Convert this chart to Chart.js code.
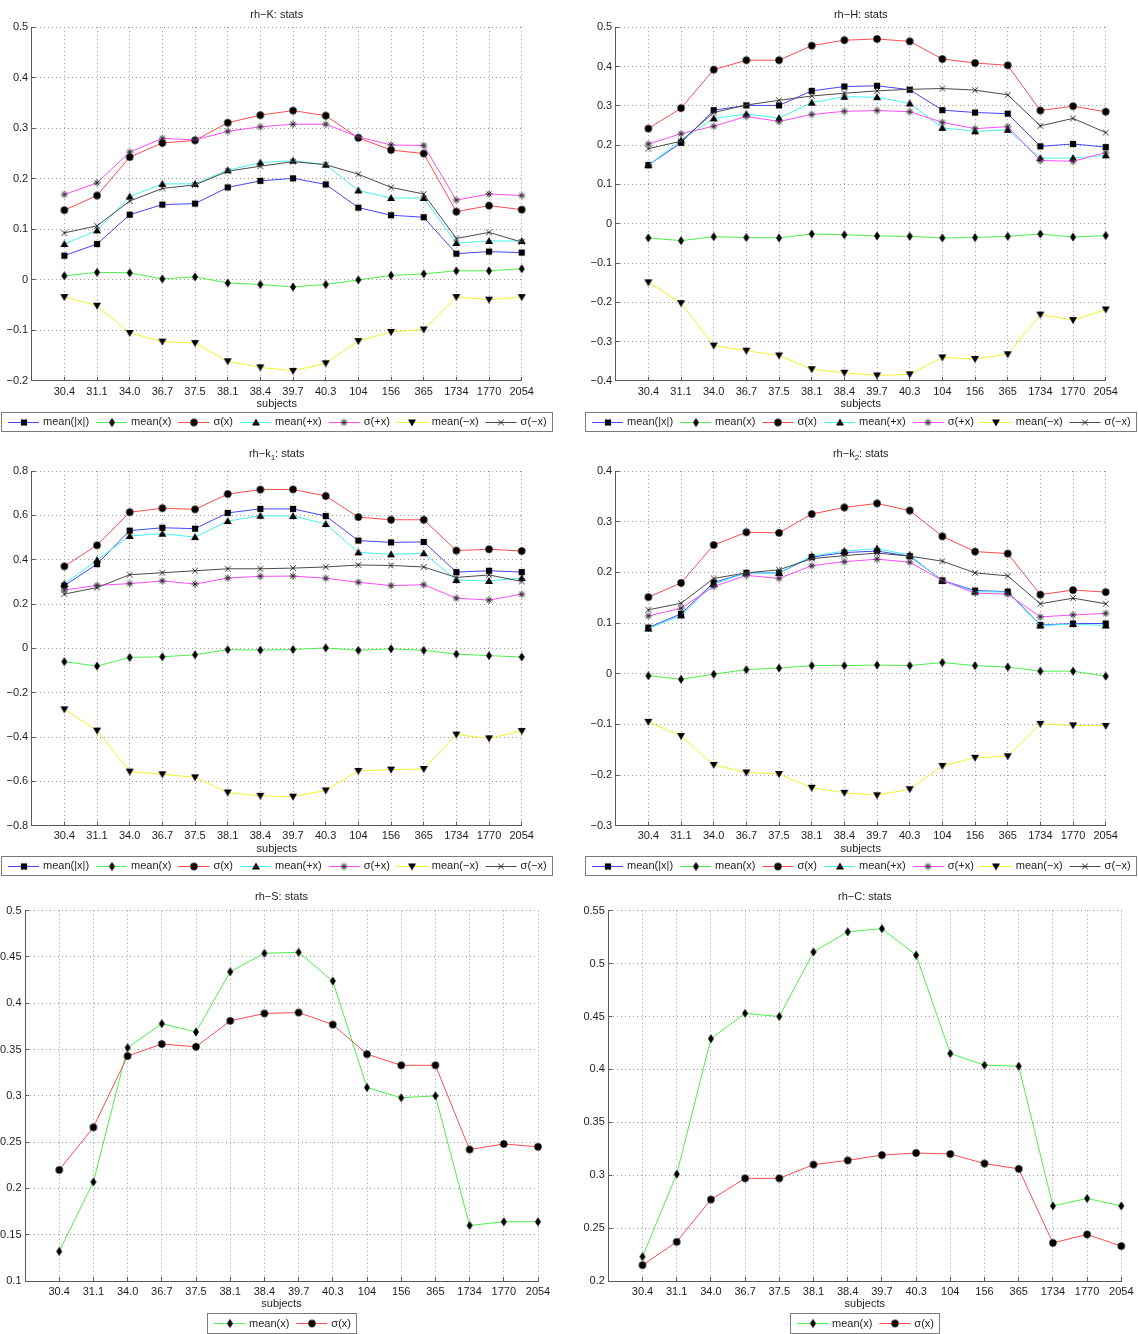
<!DOCTYPE html>
<html><head><meta charset="utf-8">
<script src="https://cdn.jsdelivr.net/npm/chart.js@4.4.1/dist/chart.umd.min.js"></script>
<style>
html,body{margin:0;padding:0;background:#fff;}
#wrap{position:relative;width:1138px;height:1334px;overflow:hidden;background:#fff;}
canvas{position:absolute;left:0;top:0;}
</style></head><body><div id="wrap"></div>
<script>
// ---------- data ----------
const subjects = ['30.4','31.1','34.0','36.7','37.5','38.1','38.4','39.7','40.3','104','156','365','1734','1770','2054'];
const statLabels = ['mean(|x|)','mean(x)','\u03c3(x)','mean(+x)','\u03c3(+x)','mean(\u2212x)','\u03c3(\u2212x)'];

// rh-K
const K_meanAbs  = [0.048,0.071,0.129,0.149,0.151,0.183,0.196,0.201,0.189,0.143,0.128,0.124,0.052,0.056,0.054];
const K_mean     = [0.008,0.015,0.014,0.002,0.006,-0.006,-0.009,-0.014,-0.009,0.000,0.009,0.012,0.018,0.018,0.022];
const K_sigma    = [0.138,0.167,0.243,0.271,0.276,0.311,0.326,0.335,0.325,0.281,0.257,0.250,0.135,0.147,0.139];
const K_meanPos  = [0.071,0.098,0.165,0.190,0.190,0.217,0.232,0.236,0.228,0.177,0.162,0.162,0.073,0.077,0.077];
const K_sigmaPos = [0.169,0.192,0.253,0.280,0.277,0.294,0.303,0.308,0.308,0.283,0.267,0.266,0.158,0.170,0.167];
const K_meanNeg  = [-0.034,-0.051,-0.105,-0.122,-0.125,-0.161,-0.173,-0.180,-0.165,-0.121,-0.103,-0.098,-0.034,-0.039,-0.034];
const K_sigmaNeg = [0.093,0.107,0.156,0.181,0.188,0.215,0.225,0.234,0.228,0.209,0.183,0.170,0.082,0.094,0.075];
const K_yRange = [-0.2, 0.5, 0.1];

// rh-H
const H_meanAbs  = [0.149,0.206,0.289,0.301,0.301,0.338,0.349,0.351,0.341,0.289,0.283,0.280,0.197,0.203,0.195];
const H_mean     = [-0.036,-0.043,-0.033,-0.035,-0.036,-0.026,-0.028,-0.031,-0.032,-0.036,-0.035,-0.032,-0.026,-0.034,-0.030];
const H_sigma    = [0.242,0.294,0.392,0.416,0.416,0.453,0.467,0.470,0.464,0.419,0.409,0.403,0.288,0.299,0.285];
const H_meanPos  = [0.149,0.212,0.268,0.279,0.269,0.308,0.323,0.322,0.306,0.244,0.235,0.239,0.167,0.167,0.174];
const H_sigmaPos = [0.203,0.229,0.248,0.273,0.260,0.278,0.286,0.288,0.285,0.258,0.242,0.247,0.161,0.159,0.181];
const H_meanNeg  = [-0.149,-0.202,-0.310,-0.323,-0.335,-0.370,-0.379,-0.386,-0.383,-0.340,-0.344,-0.332,-0.231,-0.245,-0.218];
const H_sigmaNeg = [0.191,0.210,0.283,0.302,0.314,0.325,0.332,0.338,0.342,0.344,0.340,0.328,0.249,0.268,0.232];
const H_yRange = [-0.4, 0.5, 0.1];

// rh-k1
const k1_meanAbs  = [0.283,0.380,0.531,0.544,0.540,0.611,0.629,0.629,0.597,0.486,0.478,0.480,0.344,0.350,0.344];
const k1_mean     = [-0.060,-0.080,-0.041,-0.038,-0.029,-0.006,-0.008,-0.005,0.002,-0.009,-0.002,-0.009,-0.026,-0.033,-0.039];
const k1_sigma    = [0.370,0.465,0.614,0.632,0.627,0.696,0.716,0.717,0.687,0.592,0.580,0.580,0.441,0.447,0.439];
const k1_meanPos  = [0.290,0.398,0.507,0.517,0.502,0.574,0.598,0.597,0.561,0.433,0.424,0.429,0.308,0.304,0.317];
const k1_sigmaPos = [0.263,0.284,0.292,0.304,0.290,0.317,0.325,0.326,0.316,0.298,0.283,0.287,0.226,0.218,0.244];
const k1_meanNeg  = [-0.275,-0.371,-0.556,-0.568,-0.582,-0.650,-0.665,-0.669,-0.641,-0.553,-0.547,-0.544,-0.389,-0.406,-0.373];
const k1_sigmaNeg = [0.245,0.274,0.332,0.341,0.350,0.359,0.359,0.362,0.367,0.376,0.374,0.367,0.320,0.331,0.302];
const k1_yRange = [-0.8, 0.8, 0.2];

// rh-k2
const k2_meanAbs  = [0.091,0.118,0.180,0.199,0.199,0.230,0.239,0.242,0.232,0.184,0.164,0.162,0.096,0.099,0.099];
const k2_mean     = [-0.004,-0.011,-0.001,0.008,0.011,0.016,0.016,0.017,0.016,0.022,0.016,0.013,0.005,0.005,-0.005];
const k2_sigma    = [0.151,0.179,0.254,0.279,0.278,0.315,0.328,0.336,0.322,0.271,0.241,0.237,0.156,0.165,0.161];
const k2_meanPos  = [0.089,0.115,0.177,0.199,0.199,0.232,0.242,0.247,0.234,0.183,0.162,0.161,0.095,0.098,0.095];
const k2_sigmaPos = [0.114,0.129,0.172,0.194,0.188,0.213,0.221,0.226,0.220,0.184,0.159,0.157,0.112,0.116,0.119];
const k2_meanNeg  = [-0.095,-0.123,-0.180,-0.195,-0.198,-0.225,-0.235,-0.240,-0.228,-0.182,-0.166,-0.163,-0.099,-0.102,-0.103];
const k2_sigmaNeg = [0.126,0.139,0.188,0.199,0.205,0.227,0.233,0.238,0.232,0.222,0.199,0.193,0.138,0.149,0.138];
const k2_yRange = [-0.3, 0.4, 0.1];

// rh-S
const S_mean  = [0.132,0.207,0.352,0.378,0.369,0.434,0.454,0.455,0.424,0.309,0.298,0.300,0.160,0.164,0.164];
const S_sigma = [0.220,0.266,0.343,0.356,0.353,0.381,0.389,0.390,0.377,0.345,0.333,0.333,0.242,0.248,0.245];
const S_yRange = [0.1, 0.5, 0.05];

// rh-C
const C_mean  = [0.223,0.301,0.429,0.453,0.450,0.511,0.530,0.533,0.508,0.415,0.404,0.403,0.271,0.278,0.271];
const C_sigma = [0.215,0.237,0.277,0.297,0.297,0.310,0.314,0.319,0.321,0.320,0.311,0.306,0.236,0.244,0.233];
const C_yRange = [0.2, 0.55, 0.05];

// ---------- styles ----------
const FONT = "'Liberation Sans', Arial, Helvetica, sans-serif";
const TXT = '#1e1e1e', AXIS = '#5a5a5a', GRID = '#9a9a9a';
const statColors  = ['#4444ff','#4cf04c','#ff4c4c','#44f2f2','#ff4cff','#f2f22e','#4a4a4a'];
const statMarkers = ['square','diamond','circle','triUp','star','triDown','xmark'];

function makeMarker(kind) {
  const c = document.createElement('canvas');
  c.width = 12; c.height = 12;
  const g = c.getContext('2d');
  const cx = 6, cy = 6;
  g.fillStyle = '#000'; g.strokeStyle = '#000'; g.lineWidth = 1;
  g.beginPath();
  if (kind === 'square') { g.rect(cx-3.1, cy-3.1, 6.2, 6.2); g.fill(); }
  else if (kind === 'diamond') { g.moveTo(cx, cy-4.6); g.lineTo(cx+3, cy); g.lineTo(cx, cy+4.6); g.lineTo(cx-3, cy); g.closePath(); g.fill(); }
  else if (kind === 'circle') { g.arc(cx, cy, 3.7, 0, 2*Math.PI); g.fill(); }
  else if (kind === 'triUp') { g.moveTo(cx, cy-4); g.lineTo(cx+4, cy+3); g.lineTo(cx-4, cy+3); g.closePath(); g.fill(); }
  else if (kind === 'triDown') { g.moveTo(cx, cy+4); g.lineTo(cx+4, cy-3); g.lineTo(cx-4, cy-3); g.closePath(); g.fill(); }
  else if (kind === 'star') {
    g.strokeStyle = '#2a2a2a'; const r = 3.6;
    for (let k = 0; k < 4; k++) { const a = k*Math.PI/4; g.moveTo(cx-r*Math.cos(a), cy-r*Math.sin(a)); g.lineTo(cx+r*Math.cos(a), cy+r*Math.sin(a)); }
    g.stroke();
  } else if (kind === 'xmark') {
    g.strokeStyle = '#2a2a2a'; const r = 2.8;
    g.moveTo(cx-r, cy-r); g.lineTo(cx+r, cy+r); g.moveTo(cx-r, cy+r); g.lineTo(cx+r, cy-r); g.stroke();
  }
  return c;
}
const markerImgs = {};
statMarkers.forEach(m => markerImgs[m] = makeMarker(m));

// ---------- panels ----------
const panels = [
  { title: [['rh\u2212K: stats', false]], series: [K_meanAbs,K_mean,K_sigma,K_meanPos,K_sigmaPos,K_meanNeg,K_sigmaNeg], idx:[0,1,2,3,4,5,6], y: K_yRange,
    box: {L:31.7, R:521.7, T:27.2, B:381}, titleY: 15, leg: [412, 431] },
  { title: [['rh\u2212H: stats', false]], series: [H_meanAbs,H_mean,H_sigma,H_meanPos,H_sigmaPos,H_meanNeg,H_sigmaNeg], idx:[0,1,2,3,4,5,6], y: H_yRange,
    box: {L:615.7, R:1105.7, T:27.2, B:381}, titleY: 15, leg: [412, 431] },
  { title: [['rh\u2212k', false], ['1', true], [': stats', false]], series: [k1_meanAbs,k1_mean,k1_sigma,k1_meanPos,k1_sigmaPos,k1_meanNeg,k1_sigmaNeg], idx:[0,1,2,3,4,5,6], y: k1_yRange,
    box: {L:31.7, R:521.7, T:471, B:825.7}, titleY: 454, leg: [856, 875] },
  { title: [['rh\u2212k', false], ['2', true], [': stats', false]], series: [k2_meanAbs,k2_mean,k2_sigma,k2_meanPos,k2_sigmaPos,k2_meanNeg,k2_sigmaNeg], idx:[0,1,2,3,4,5,6], y: k2_yRange,
    box: {L:615.7, R:1105.7, T:471, B:825.7}, titleY: 454, leg: [856, 875] },
  { title: [['rh\u2212S: stats', false]], series: [S_mean, S_sigma], idx:[1,2], y: S_yRange,
    box: {L:25, R:538, T:910.7, B:1281}, titleY: 897.3, leg: [1313, 1333] },
  { title: [['rh\u2212C: stats', false]], series: [C_mean, C_sigma], idx:[1,2], y: C_yRange,
    box: {L:608.3, R:1121.3, T:910.7, B:1281}, titleY: 897.3, leg: [1313, 1333] },
];

const W = 1138, Hh = 1334, XH = 30;
const alignPx = p => Math.round(p - 0.5) + 0.5;

const decor = {
  id: 'decor',
  afterDraw(chart) {
    const p = chart.options.plugins.decor.panel;
    const ctx = chart.ctx, a = chart.chartArea;
    const xs = chart.scales.x, ys = chart.scales.y;
    ctx.save();
    // inward tick marks
    ctx.strokeStyle = AXIS; ctx.lineWidth = 1; ctx.beginPath();
    xs.ticks.forEach(t => { if (t.value < 1) return; const px = alignPx(xs.getPixelForValue(t.value)); ctx.moveTo(px, a.bottom); ctx.lineTo(px, a.bottom - 4); });
    ys.ticks.forEach(t => { const py = alignPx(ys.getPixelForValue(t.value)); ctx.moveTo(a.left, py); ctx.lineTo(a.left + 4, py); });
    ctx.stroke();
    // title
    const cx = (a.left + a.right) / 2;
    const mainF = '11px ' + FONT, subF = '8px ' + FONT;
    let tw = 0;
    p.title.forEach(([s, sub]) => { ctx.font = sub ? subF : mainF; tw += ctx.measureText(s).width; });
    let x = cx - tw / 2;
    ctx.fillStyle = TXT; ctx.textBaseline = 'middle'; ctx.textAlign = 'left';
    p.title.forEach(([s, sub]) => { ctx.font = sub ? subF : mainF; ctx.fillText(s, x, p.titleY + (sub ? 3.5 : 0)); x += ctx.measureText(s).width; });
    // legend
    ctx.font = mainF;
    const ds = chart.data.datasets;
    const widths = ds.map(d => ctx.measureText(d.label).width);
    const padL = 6.5, lineL = 31, gap = 4, itemGap = 7, padR = 5.5;
    const total = padL + padR + widths.reduce((s, w) => s + w + lineL + gap, 0) + itemGap * (ds.length - 1);
    const bx = Math.round(cx - total / 2) + 0.5, by = p.leg[0] + 0.5, bh = p.leg[1] - p.leg[0];
    ctx.fillStyle = '#fff'; ctx.fillRect(bx, by, total, bh);
    ctx.strokeStyle = '#7a7a7a'; ctx.lineWidth = 1; ctx.strokeRect(bx, by, Math.round(total), bh);
    const my = (p.leg[0] + p.leg[1]) / 2;
    let lx = bx + padL;
    ds.forEach((d, i) => {
      ctx.strokeStyle = d.borderColor; ctx.lineWidth = 1;
      ctx.beginPath(); ctx.moveTo(lx, Math.round(my) + 0.5); ctx.lineTo(lx + lineL, Math.round(my) + 0.5); ctx.stroke();
      const img = d.pointStyle;
      ctx.drawImage(img, Math.round(lx + lineL / 2 - img.width / 2), Math.round(my - img.height / 2) + 0.5);
      ctx.fillStyle = TXT; ctx.textBaseline = 'middle';
      ctx.fillText(d.label, lx + lineL + gap, my + 0.5);
      lx += lineL + gap + widths[i] + itemGap;
    });
    ctx.restore();
  }
};

const fmt = v => { const s = String(Math.round(v * 1000) / 1000); return s.replace('-', '\u2212'); };

panels.forEach((p, pi) => {
  const cv = document.createElement('canvas');
  cv.width = W; cv.height = Hh;
  document.getElementById('wrap').appendChild(cv);
  const [ymin, ymax, ystep] = p.y;
  const YW = Math.min(40, p.box.L);
  const n = p.series.length;
  const datasets = p.series.map((vals, si) => {
    const k = p.idx[si];
    return {
      label: statLabels[k],
      data: vals.map((v, i) => ({ x: i + 1, y: v })),
      borderColor: statColors[k],
      backgroundColor: statColors[k],
      borderWidth: 1,
      pointStyle: markerImgs[statMarkers[k]],
      pointRadius: 4, pointHoverRadius: 4,
      fill: false, tension: 0, clip: false,
      order: n - si
    };
  });
  new Chart(cv, {
    type: 'line',
    data: { datasets },
    plugins: [decor],
    options: {
      responsive: false, animation: false, events: [], devicePixelRatio: 1,
      layout: { padding: { left: p.box.L - YW, right: W - p.box.R, top: p.box.T, bottom: Hh - p.box.B - XH } },
      plugins: { legend: { display: false }, title: { display: false }, tooltip: { enabled: false }, decor: { panel: p } },
      scales: {
        x: {
          type: 'linear', min: 0, max: 15,
          afterBuildTicks: s => { s.ticks = Array.from({ length: 16 }, (_, i) => ({ value: i })); },
          afterFit: s => { s.height = XH; },
          ticks: { autoSkip: false, maxRotation: 0, minRotation: 0, padding: 4, color: TXT,
                   font: { family: FONT, size: 11 },
                   callback: v => (v >= 1 && v <= 15) ? subjects[v - 1] : '' },
          grid: { color: GRID, lineWidth: 1, drawTicks: false },
          border: { display: true, color: AXIS, width: 1, dash: [1, 3] },
          title: { display: true, text: 'subjects', color: TXT, font: { family: FONT, size: 11 }, padding: { top: 0, bottom: 0 } }
        },
        y: {
          type: 'linear', min: ymin, max: ymax,
          afterBuildTicks: s => {
            const cnt = Math.round((ymax - ymin) / ystep);
            s.ticks = Array.from({ length: cnt + 1 }, (_, i) => ({ value: Math.round((ymin + i * ystep) * 1000) / 1000 }));
          },
          afterFit: s => { s.width = YW; },
          ticks: { padding: 3.5, color: TXT, font: { family: FONT, size: 11 }, callback: v => fmt(v) },
          grid: { color: GRID, lineWidth: 1, drawTicks: false },
          border: { display: true, color: AXIS, width: 1, dash: [1, 3] }
        }
      }
    }
  });
});
</script>
</body></html>
